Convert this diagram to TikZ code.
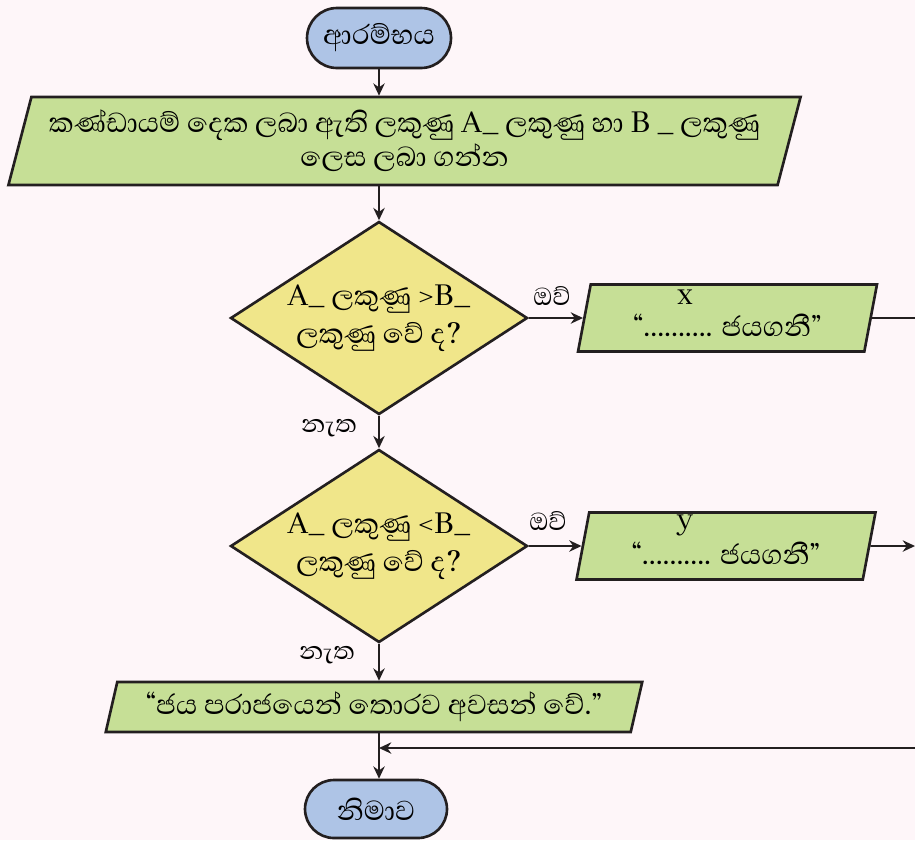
\documentclass[tikz,border=0pt]{standalone}
\usepackage{fontspec}
\setmainfont{Abhaya Libre}[Script=Sinhala]
\usetikzlibrary{shapes.geometric,shapes.misc,arrows.meta}
\definecolor{bgpink}{HTML}{FEF6F9}
\definecolor{termblue}{HTML}{AEC4E6}
\definecolor{iogreen}{HTML}{C6DF96}
\definecolor{askyellow}{HTML}{F0E68A}
\definecolor{inkline}{HTML}{231F20}
\tikzset{
  terminal/.style={rounded rectangle, draw=inkline, fill=termblue, line width=1.5pt,
    minimum width=2.88cm, minimum height=1.2cm, inner sep=0pt},
  iobox/.style={trapezium, trapezium stretches=true, draw=inkline, fill=iogreen,
    line width=1.5pt, inner sep=0pt, align=center},
  winbox/.style={iobox, trapezium left angle=78.4, trapezium right angle=101.6,
    minimum width=5.98cm, minimum height=1.34cm, text height=0.8cm, text depth=0.05cm},
  ask/.style={diamond, aspect=1.54, draw=inkline, fill=askyellow, line width=1.5pt,
    inner sep=0pt, minimum width=5.94cm, minimum height=3.86cm, align=center,
    font=\fontsize{20}{21.5}\selectfont},
  flow/.style={draw=inkline, line width=1.1pt},
  lbl/.style={inner sep=0pt, font=\fontsize{18}{20}\selectfont}
}
\begin{document}
\begin{tikzpicture}[x=0.02cm, y=-0.02cm, >={Stealth[length=7pt,width=6.5pt]},
    font=\fontsize{20}{19.5}\selectfont]
    \useasboundingbox (0,0) rectangle (915,840);
    \clip (0,0) rectangle (915,840);
    \fill[bgpink] (0,0) rectangle (915,840);
    \node[terminal] (start) at (379,38) {ආරම්භය};
    \node[iobox, trapezium left angle=70.6, trapezium right angle=109.4,
      minimum width=15.9cm, minimum height=1.76cm] (in) at (404.5,141)
      {කණ්ඩායම් දෙක ලබා ඇති ලකුණු A\_ ලකුණු හා B \_ ලකුණු\\ලෙස ලබා ගන්න};
    \node[ask] (d1) at (379,318) {A\_ ලකුණු >B\_\\ලකුණු වේ ද?};
    \node[winbox] (out1) at (727.5,318) {``.......... ජයගනී''};
    \node[inner sep=0pt] (xname) at (685,297) {x};
    \node[ask] (d2) at (379,546) {A\_ ලකුණු <B\_\\ලකුණු වේ ද?};
    \node[winbox] (out2) at (726,546) {``.......... ජයගනී''};
    \node[inner sep=0pt] (yname) at (685,525) {y};
    \node[iobox, trapezium left angle=71.2, trapezium right angle=108.8,
      minimum width=10.76cm, minimum height=1.0cm] (out3) at (374,707)
      {``ජය පරාජයෙන් තොරව අවසන් වේ.''};
    \node[terminal, minimum width=2.84cm, minimum height=1.16cm] (end) at (376,809) {නිමාව};
    \node[lbl] (yes1) at (552,296) {ඔව්};
    \node[lbl] (no1) at (329,428) {නැත};
    \node[lbl] (yes2) at (548,521) {ඔව්};
    \node[lbl] (no2) at (327,655) {නැත};
    \coordinate (r1) at (915,318);
    \coordinate (r2) at (915,546);
    \coordinate (r3) at (915,748);
    \draw[flow, ->] (start.south) -- (start.south |- in.north);
    \draw[flow, ->] (start.south |- in.south) -- (d1.north);
    \draw[flow, ->] (d1.east) -- (out1.west);
    \draw[flow] (out1.east) -- (r1);
    \draw[flow, ->] (d1.south) -- (d2.north);
    \draw[flow, ->] (d2.east) -- (out2.west);
    \draw[flow, ->] (out2.east) -- (r2);
    \draw[flow, ->] (d2.south) -- (d2.south |- out3.north);
    \draw[flow, ->] (d2.south |- out3.south) -- (d2.south |- end.north);
    \draw[flow, ->] (r3) -- (r3 -| d2.south);
\end{tikzpicture}
\end{document}
